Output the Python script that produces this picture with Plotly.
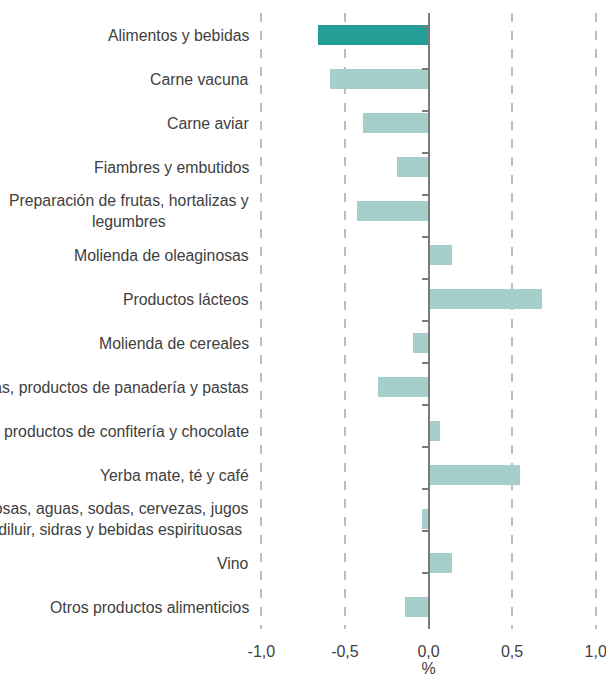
import plotly.graph_objects as go

categories = [
    "Alimentos y bebidas",
    "Carne vacuna",
    "Carne aviar",
    "Fiambres y embutidos",
    "Preparación de frutas, hortalizas y<br>legumbres",
    "Molienda de oleaginosas",
    "Productos lácteos",
    "Molienda de cereales",
    "Galletitas, productos de panadería y pastas",
    "Azúcar, productos de confitería y chocolate",
    "Yerba mate, té y café",
    "Gaseosas, aguas, sodas, cervezas, jugos<br>para diluir, sidras y bebidas espirituosas",
    "Vino",
    "Otros productos alimenticios",
]
values = [-0.66, -0.59, -0.39, -0.19, -0.43, 0.14, 0.68, -0.09, -0.30, 0.07, 0.55, -0.04, 0.14, -0.14]
xticks = [-1.0, -0.5, 0.0, 0.5, 1.0]
xtick_text = ["-1,0", "-0,5", "0,0", "0,5", "1,0"]

DARK = "#229e96"
LIGHT = "#a6cfcb"
FONT = "Liberation Sans"
TXT = "#404040"

colors = [DARK] + [LIGHT] * (len(categories) - 1)

fig = go.Figure()
fig.add_trace(go.Bar(
    x=values, y=categories, orientation="h", width=0.46,
    marker=dict(color=colors, line=dict(width=0)),
    showlegend=False, hoverinfo="x+y",
))
# invisible helper trace so the zero-line axis gets the category ticks
fig.add_trace(go.Scatter(
    x=[0] * len(categories), y=categories, yaxis="y2", mode="markers",
    marker=dict(opacity=0), showlegend=False, hoverinfo="skip",
))

for cat in categories:
    fig.add_annotation(
        x=0, xref="paper", y=cat, yref="y", xanchor="right", xshift=-7,
        text=cat, showarrow=False, align="center",
        font=dict(family=FONT, size=15.8, color=TXT),
    )

fig.update_layout(
    width=606, height=677,
    margin=dict(l=258, r=7, t=13, b=48),
    plot_bgcolor="white", paper_bgcolor="white",
    font=dict(family=FONT, size=16, color=TXT),
    bargap=0,
    xaxis=dict(
        range=[-1.02, 1.02], tickvals=xticks, ticktext=xtick_text,
        showgrid=True, gridcolor="#bdbdbd", gridwidth=1.5, griddash="dash",
        zeroline=False, showline=False, ticklabeloverflow="allow",
        automargin=False,
        ticks="outside", ticklen=8, tickcolor="rgba(0,0,0,0)",
        title=dict(text="%", standoff=3, font=dict(size=16)),
    ),
    yaxis=dict(
        type="category", categoryorder="array", categoryarray=categories,
        autorange="reversed", showticklabels=False, showgrid=False,
        zeroline=False, showline=False, ticks="", automargin=False,
    ),
    yaxis2=dict(
        type="category", categoryorder="array", categoryarray=categories,
        autorange="reversed", overlaying="y", anchor="free", position=0.5,
        side="left", showticklabels=False, showgrid=False, zeroline=False,
        showline=True, linecolor="#7a7a7a", linewidth=2, automargin=False,
        ticks="outside", ticklen=6, tickwidth=1.5, tickcolor="#7a7a7a",
        tickson="boundaries",
    ),
)

fig.write_html("out.html", config={"displayModeBar": False},
               post_script="document.body.style.margin='0';")
